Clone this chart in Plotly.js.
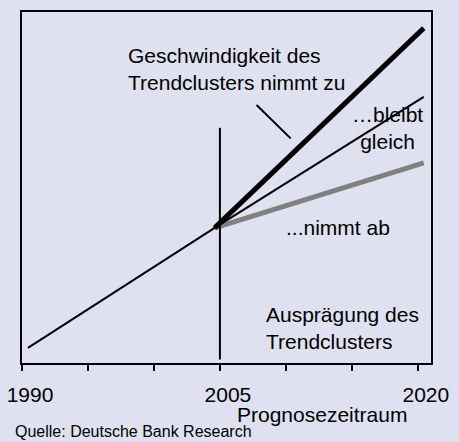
<!DOCTYPE html>
<html>
<head>
<meta charset="utf-8">
<script src="https://cdn.plot.ly/plotly-3.0.1.min.js"></script>
<style>
html,body{margin:0;padding:0;background:#dfe1f0;}
#chart{width:459px;height:442px;}
</style>
</head>
<body>
<div id="chart"></div>
<script>
// Data (years on x, "Ausprägung" index 0..100 on y)
const trendYears = [1990.45, 2004.6];
const trendValues = [4.3, 38.5];
const forecastYears = [2004.6, 2020.45];
const increaseValues = [38.5, 95.4];   // Geschwindigkeit nimmt zu
const constantValues = [38.5, 75.8];   // ...bleibt gleich
const decreaseValues = [38.5, 57.0];   // ...nimmt ab
const markerYears = [2005, 2005];
const markerValues = [1.0, 67.0];
const pointerYears = [2007.78, 2010.36];
const pointerValues = [73.5, 64.0];
const tickYears = [1990, 1995, 2000, 2005, 2010, 2015, 2020];
const tickLabels = ["1990", "", "", "2005", "", "", "2020"];

const FONT = "Liberation Sans, Arial, sans-serif";

const traces = [
  {x: forecastYears, y: decreaseValues, mode: "lines", line: {color: "#808080", width: 5}},
  {x: forecastYears, y: constantValues, mode: "lines", line: {color: "#000", width: 2}},
  {x: forecastYears, y: increaseValues, mode: "lines", line: {color: "#000", width: 5}},
  {x: trendYears, y: trendValues, mode: "lines", line: {color: "#000", width: 2}},
  {x: markerYears, y: markerValues, mode: "lines", line: {color: "#000", width: 2}},
  {x: pointerYears, y: pointerValues, mode: "lines", line: {color: "#000", width: 2}}
];

const ann = (text, x, y, xanchor, align, size) => ({
  text, x, y, xref: "x", yref: "y", xanchor, yanchor: "middle", align,
  showarrow: false, font: {family: FONT, size: size || 21, color: "#000"}
});

const layout = {
  width: 459, height: 442,
  margin: {l: 22, r: 28, t: 12, b: 79},
  paper_bgcolor: "#dfe1f0",
  plot_bgcolor: "#dfe1f0",
  showlegend: false,
  xaxis: {
    range: [1990, 2021], showgrid: false, zeroline: false,
    showline: true, linecolor: "#000", linewidth: 2, mirror: true,
    tickmode: "array", tickvals: tickYears, ticktext: tickLabels,
    ticks: "outside", ticklen: 6, tickwidth: 2, tickcolor: "#000",
    ticklabelshift: 8, ticklabelstandoff: 6,
    tickfont: {family: FONT, size: 21, color: "#000"}
  },
  yaxis: {
    range: [0, 100], showgrid: false, zeroline: false,
    showline: true, linecolor: "#000", linewidth: 2, mirror: true,
    showticklabels: false, ticks: ""
  },
  annotations: [
    ann("Geschwindigkeit des<br>Trendclusters nimmt zu", 1997.88, 83.8, "left", "left"),
    ann("…bleibt<br>gleich", 2017.73, 67.0, "center", "center"),
    ann("...nimmt ab", 2013.94, 38.7, "center", "center"),
    ann("Ausprägung des<br>Trendclusters", 2008.33, 10.0, "left", "left"),
    {text: "Prognosezeitraum", xref: "paper", yref: "paper", x: 0.7335, y: -0.1453,
     xanchor: "center", yanchor: "middle", showarrow: false,
     font: {family: FONT, size: 21, color: "#000"}},
    {text: "Quelle: Deutsche Bank Research", xref: "paper", yref: "paper", x: -0.022, y: -0.195,
     xanchor: "left", yanchor: "middle", showarrow: false,
     font: {family: FONT, size: 16, color: "#000"}}
  ]
};

Plotly.newPlot("chart", traces, layout, {displayModeBar: false, staticPlot: true});
</script>
</body>
</html>
